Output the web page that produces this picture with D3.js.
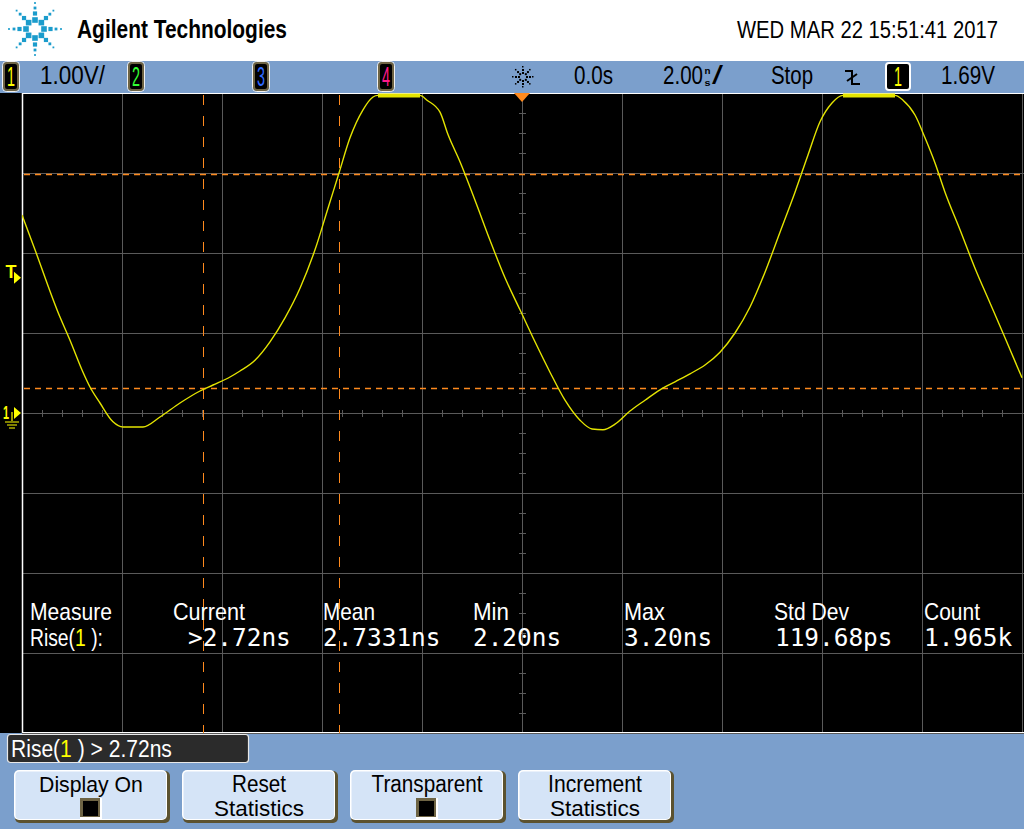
<!DOCTYPE html>
<html><head><meta charset="utf-8">
<script src="https://cdn.jsdelivr.net/npm/d3@7"></script>
<style>html,body{margin:0;padding:0;background:#fff;overflow:hidden}</style>
</head><body><svg id="c" width="1024" height="829"></svg>
<script>
// ---------- data ----------
const timeNs = [-10.00,-9.74,-9.28,-9.04,-8.78,-8.64,-8.44,-8.18,-7.98,-7.58,-7.24,-6.84,-6.44,-6.18,-5.84,-5.64,-5.34,-5.04,-4.74,-4.44,-4.14,-3.88,-3.66,-3.44,-3.18,-2.98,-2.88,-2.04,-1.90,-1.64,-1.48,-1.24,-0.94,-0.64,-0.34,-0.04,0.26,0.56,0.86,1.16,1.40,1.62,1.86,2.16,2.46,2.76,3.06,3.36,3.66,3.96,4.26,4.56,4.86,5.16,5.46,5.72,5.96,6.20,6.42,7.46,7.62,7.86,8.06,8.26,8.46,8.76,9.06,9.36,9.66,10.00];
const volts = [2.475,2.04,1.26,0.91,0.51,0.325,0.125,-0.11,-0.175,-0.175,-0.05,0.125,0.275,0.35,0.45,0.525,0.66,0.89,1.19,1.56,2.04,2.56,3.0,3.44,3.79,3.95,3.97,3.97,3.91,3.76,3.48,3.14,2.66,2.16,1.69,1.29,0.89,0.51,0.16,-0.09,-0.2,-0.21,-0.14,0.025,0.16,0.29,0.39,0.49,0.6,0.76,1.0,1.325,1.76,2.26,2.76,3.225,3.64,3.875,3.97,3.97,3.91,3.725,3.44,3.125,2.76,2.29,1.81,1.375,0.94,0.44];
const thresholdLevels = [2.99, 0.31];       // V, horizontal orange cursors
const cursorTimes = [-6.38, -3.66];         // ns, vertical orange cursors
const triggerLevel = 1.69;                  // V
const measureHeaders = ["Measure","Current","Mean","Min","Max","Std Dev","Count"];
const measureValues = [">2.72ns","2.7331ns","2.20ns","3.20ns","119.68ps","1.965k"];
const channelLabels = ["1","2","3","4"];
const channelColors = ["#ffff00","#33ff33","#2f6bff","#ff1a8c"];
const buttonLabels = [["Display On"],["Reset","Statistics"],["Transparent"],["Increment","Statistics"]];
const buttonHasBox = [true,false,true,false];

// ---------- setup ----------
const svg = d3.select('#c');
const BLUE = "#7b9fcc", YEL = "#e4e400", ORG = "#ff8a1e", GRID = "#5a5a5a";
const SANS = "'Liberation Sans', Arial, sans-serif";
const MONO = "'DejaVu Sans Mono', monospace";
const x = d3.scaleLinear().domain([-10,10]).range([22,1022]);
const y = d3.scaleLinear().domain([-4,4]).range([733,93]);

// place text and squeeze it horizontally to a given width with a transform
function fit(t, xx, yy, len) {
  if (len) {
    const w = t.node().getComputedTextLength();
    const s = w > 0 ? len / w : 1;
    t.attr('x', 0).attr('y', 0).attr('transform', `translate(${xx},${yy}) scale(${s},1)`);
  }
}
function txt(g, xx, yy, s, o = {}) {
  const t = g.append('text').attr('x', xx).attr('y', yy).text(s)
    .attr('font-family', o.font || SANS).attr('font-size', o.size || 22)
    .attr('fill', o.fill || '#000');
  if (o.weight) t.attr('font-weight', o.weight);
  if (o.anchor) t.attr('text-anchor', o.anchor);
  fit(t, xx, yy, o.len);
  return t;
}
function multi(xx, yy, parts, size, len) {
  const t = svg.append('text').attr('x', xx).attr('y', yy).attr('font-family', SANS)
    .attr('font-size', size).attr('xml:space', 'preserve');
  parts.forEach(([s, c]) => t.append('tspan').attr('fill', c).text(s));
  fit(t, xx, yy, len);
  return t;
}

// backgrounds
svg.append('rect').attr('x',0).attr('y',0).attr('width',1024).attr('height',61).attr('fill','#fff');
svg.append('rect').attr('x',0).attr('y',61).attr('width',1024).attr('height',32).attr('fill',BLUE);
svg.append('rect').attr('x',0).attr('y',93).attr('width',1024).attr('height',640).attr('fill','#000');
svg.append('rect').attr('x',0).attr('y',733).attr('width',1024).attr('height',96).attr('fill',BLUE);

// ---------- header ----------
const logo = svg.append('g').attr('transform','translate(35,29)');
const spokeDots = [[9,2.8],[15.5,2.1],[21,1.4],[26,0.9]];
for (let k = 0; k < 8; k++) {
  const a = k * Math.PI / 4;
  spokeDots.forEach(([r, s]) => {
    logo.append('rect').attr('x', r*Math.cos(a) - s).attr('y', r*Math.sin(a) - s)
      .attr('width', 2*s).attr('height', 2*s).attr('fill', '#1b9ccc');
  });
}
txt(svg, 77, 38, "Agilent Technologies", {size: 25, weight: 'bold', len: 210});
txt(svg, 737, 38, "WED MAR 22 15:51:41 2017", {size: 23, len: 261});

// ---------- status bar ----------
function chBox(xx, w, label, color, border) {
  svg.append('rect').attr('x', xx-0.5).attr('y', 61.5).attr('width', w+1).attr('height', 30)
    .attr('rx', 4).attr('fill', 'none').attr('stroke', '#f0f0f0').attr('stroke-width', 1);
  svg.append('rect').attr('x', xx+1).attr('y', 63).attr('width', w-2).attr('height', 27)
    .attr('rx', 3).attr('fill', '#000').attr('stroke', border).attr('stroke-width', 2);
  txt(svg, xx + w/2, 86, label, {size: 27, fill: color, anchor: 'middle', len: 8});
}
const chX = [3, 128, 253, 378];
channelLabels.forEach((c, i) => chBox(chX[i], 16, c, channelColors[i], '#6e6444'));
txt(svg, 40, 84, "1.00V/", {size: 25, len: 65});
// trigger-mode starburst
const sb = svg.append('g').attr('transform','translate(523,77)');
for (let k = 0; k < 8; k++) {
  const a = k * Math.PI / 4;
  [4, 7, 10].forEach((r, j) => sb.append('rect')
    .attr('x', r*Math.cos(a) - 1).attr('y', r*Math.sin(a) - 1).attr('width', j===2?1.5:2).attr('height', j===2?1.5:2).attr('fill', '#000'));
}
txt(svg, 574, 84, "0.0s", {size: 25, len: 39});
txt(svg, 663, 84, "2.00", {size: 25, len: 40});
txt(svg, 704.5, 73.5, "n", {size: 9, len: 6, weight: 'bold'});
txt(svg, 704.5, 86, "s", {size: 9, len: 6, weight: 'bold'});
txt(svg, 712, 84, "/", {size: 25, len: 11});
txt(svg, 771, 84, "Stop", {size: 25, len: 42});
svg.append('path').attr('d','M845,71H852V84H860M847,81L857,74').attr('fill','none').attr('stroke','#000').attr('stroke-width',2);
svg.append('rect').attr('x',886).attr('y',63).attr('width',24).attr('height',27).attr('rx',3)
  .attr('fill','#000').attr('stroke','#fff').attr('stroke-width',2);
txt(svg, 898, 86, "1", {size: 27, fill: '#ffff00', anchor: 'middle', len: 8});
txt(svg, 941, 84, "1.69V", {size: 25, len: 54});

// ---------- grid ----------
const grid = svg.append('g');
x.ticks(10).forEach(t => grid.append('line').attr('x1', Math.round(x(t))+0.5).attr('x2', Math.round(x(t))+0.5)
  .attr('y1', 93).attr('y2', 733).attr('stroke', GRID));
y.ticks(8).forEach(v => grid.append('line').attr('y1', Math.round(y(v))+0.5).attr('y2', Math.round(y(v))+0.5)
  .attr('x1', 22).attr('x2', 1024).attr('stroke', GRID));
d3.range(-10, 10.01, 0.4).forEach(t => grid.append('line')
  .attr('x1', Math.round(x(t))+0.5).attr('x2', Math.round(x(t))+0.5).attr('y1', y(0)-3).attr('y2', y(0)+4).attr('stroke', GRID));
d3.range(-4, 4.01, 0.25).forEach(v => grid.append('line')
  .attr('y1', Math.round(y(v))+0.5).attr('y2', Math.round(y(v))+0.5).attr('x1', x(0)-3).attr('x2', x(0)+4).attr('stroke', GRID));
// borders
svg.append('line').attr('x1',22.5).attr('x2',22.5).attr('y1',93).attr('y2',733).attr('stroke','#fff').attr('stroke-width',1.5);
svg.append('line').attr('x1',22).attr('x2',1024).attr('y1',93.5).attr('y2',93.5).attr('stroke','#fff');
svg.append('line').attr('x1',22).attr('x2',1024).attr('y1',732.5).attr('y2',732.5).attr('stroke','#fff');

// ---------- cursors ----------
thresholdLevels.forEach(v => svg.append('line').attr('x1', 24).attr('x2', 1024)
  .attr('y1', Math.round(y(v))+0.5).attr('y2', Math.round(y(v))+0.5)
  .attr('stroke', ORG).attr('stroke-width', 1.3).attr('stroke-dasharray', '6,5'));
cursorTimes.forEach(t => svg.append('line').attr('y1', 95).attr('y2', 733)
  .attr('x1', Math.round(x(t))+0.5).attr('x2', Math.round(x(t))+0.5)
  .attr('stroke', ORG).attr('stroke-width', 1).attr('stroke-dasharray', '10,11'));

// ---------- waveform ----------
svg.append('clipPath').attr('id','plotclip').append('rect').attr('x',22).attr('y',93).attr('width',1002).attr('height',640);
const data = timeNs.map((t, i) => [t, volts[i]]);
const line = d3.line().x(d => x(d[0])).y(d => y(d[1])).curve(d3.curveMonotoneX);
svg.append('path').attr('clip-path','url(#plotclip)').attr('d', line(data))
  .attr('fill','none').attr('stroke', YEL).attr('stroke-width', 1.4);
const clipped = [];
for (let i = 0; i < data.length - 1; i++) {
  if (data[i][1] >= 3.97 && data[i+1][1] >= 3.97) clipped.push([data[i], data[i+1]]);
}
clipped.forEach(seg => svg.append('path').attr('d', d3.line().x(d => x(d[0])).y(d => y(d[1]))(seg))
  .attr('stroke', YEL).attr('stroke-width', 4).attr('fill','none'));

// ---------- markers ----------
svg.append('path').attr('d', `M${x(0)-8},93L${x(0)+8},93L${x(0)},102Z`).attr('fill', ORG);
const ty = y(triggerLevel);
txt(svg, 11, ty, "T", {size: 19, fill: '#ffff00', anchor: 'middle', weight: 'bold', len: 11});
svg.append('path').attr('d', `M14,${ty-6}L21,${ty}L14,${ty+6}Z`).attr('fill', '#ffff00');
const gy = y(0);
txt(svg, 6, gy+6, "1", {size: 19, fill: '#ffff00', anchor: 'middle', weight: 'bold', len: 6});
svg.append('path').attr('d', `M14,${gy-6}L21,${gy}L14,${gy+6}Z`).attr('fill', '#ffff00');
svg.append('path').attr('d', `M12,${gy-1}V${gy+8}M5,${gy+9}H19M7,${gy+12}H17M9,${gy+15}H15`)
  .attr('stroke','#ffff00').attr('stroke-width',1.2).attr('fill','none');

// ---------- measurement table ----------
const colX = [30, 173, 323, 473, 624, 774, 924];
const headLen = [82, 72, 52, 36, 41, 75, 56];
measureHeaders.forEach((h, i) => txt(svg, colX[i], 620, h, {size: 24, fill: '#fff', len: headLen[i]}));
multi(30, 646, [["Rise(", "#fff"], ["1", "#ffff00"], [" ):", "#fff"]], 24, 73);
const valX = [188, 323, 473, 624, 775, 924];
measureValues.forEach((v, i) => txt(svg, valX[i], 646, v, {size: 24, font: MONO, fill: '#fff', len: v.length * 14.7}));

// ---------- bottom softkeys ----------
svg.append('rect').attr('x', 7.5).attr('y', 734.5).attr('width', 241).attr('height', 28).attr('rx', 3)
  .attr('fill', '#2b2b2b').attr('stroke', '#e8e8e8').attr('stroke-width', 1.2);
multi(11, 757, [["Rise(", "#fff"], ["1", "#ffff00"], [" ) > 2.72ns", "#fff"]], 24, 161);

const btnX = [14, 182, 350, 518];
const btnLen = [[104], [54, 90], [111], [94, 90]];
buttonLabels.forEach((lines, i) => {
  const bx = btnX[i];
  svg.append('rect').attr('x', bx+1).attr('y', 771).attr('width', 155).attr('height', 52).attr('rx', 5).attr('fill', '#5b5230');
  svg.append('rect').attr('x', bx).attr('y', 770).attr('width', 153).attr('height', 50).attr('rx', 5).attr('fill', '#fff');
  svg.append('rect').attr('x', bx+1.5).attr('y', 771.5).attr('width', 150.5).attr('height', 47.5).attr('rx', 4).attr('fill', '#d5e4f7');
  const cx = bx + 77;
  lines.forEach((l, j) => txt(svg, cx, 792 + j*24, l, {size: 23, anchor: 'middle', len: btnLen[i][j]}));
  if (buttonHasBox[i]) {
    svg.append('rect').attr('x', cx-11).attr('y', 798).attr('width', 22).attr('height', 21).attr('fill', '#fff');
    svg.append('rect').attr('x', cx-11).attr('y', 798).attr('width', 20).attr('height', 19).attr('fill', '#6e6444');
    svg.append('rect').attr('x', cx-8).attr('y', 801).attr('width', 15).attr('height', 15).attr('fill', '#000');
  }
});
</script></body></html>
